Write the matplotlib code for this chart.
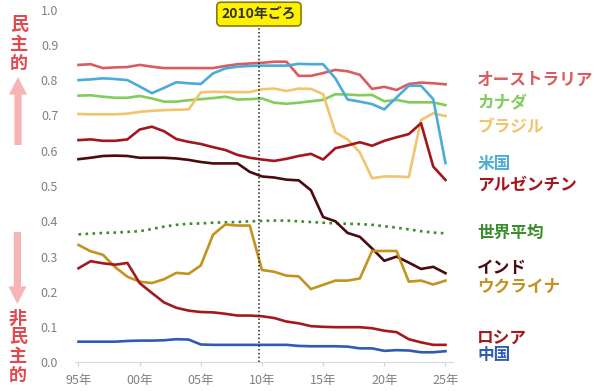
import matplotlib
matplotlib.use("Agg")
import matplotlib.pyplot as plt
from matplotlib.patches import FancyArrow

plt.rcParams['font.family'] = ['Noto Sans CJK JP', 'DejaVu Sans']

years = list(range(1995, 2026))

australia = [0.843, 0.845, 0.834, 0.836, 0.837, 0.843, 0.838, 0.834, 0.834, 0.834,
             0.834, 0.834, 0.840, 0.845, 0.847, 0.849, 0.852, 0.852, 0.812, 0.812,
             0.820, 0.829, 0.825, 0.815, 0.775, 0.781, 0.772, 0.789, 0.793, 0.791, 0.788]
usa = [0.800, 0.802, 0.805, 0.803, 0.800, 0.782, 0.763, 0.778, 0.794, 0.791,
       0.789, 0.819, 0.833, 0.838, 0.840, 0.841, 0.841, 0.841, 0.846, 0.845,
       0.845, 0.805, 0.745, 0.739, 0.732, 0.717, 0.751, 0.784, 0.784, 0.746, 0.565]
canada = [0.756, 0.757, 0.753, 0.750, 0.750, 0.755, 0.748, 0.739, 0.739, 0.743,
          0.746, 0.749, 0.753, 0.745, 0.746, 0.748, 0.736, 0.733, 0.736, 0.740,
          0.744, 0.760, 0.759, 0.757, 0.758, 0.740, 0.744, 0.737, 0.737, 0.737, 0.729]
brazil = [0.704, 0.703, 0.703, 0.703, 0.705, 0.710, 0.713, 0.715, 0.716, 0.717,
          0.765, 0.767, 0.766, 0.766, 0.766, 0.774, 0.776, 0.769, 0.776, 0.775,
          0.760, 0.652, 0.632, 0.595, 0.522, 0.527, 0.527, 0.525, 0.687, 0.706, 0.698]
argentina = [0.630, 0.632, 0.628, 0.628, 0.632, 0.660, 0.668, 0.655, 0.633, 0.625,
             0.619, 0.610, 0.602, 0.588, 0.580, 0.575, 0.571, 0.577, 0.585, 0.591,
             0.575, 0.607, 0.615, 0.624, 0.614, 0.628, 0.638, 0.647, 0.678, 0.555, 0.517]
india = [0.576, 0.580, 0.585, 0.586, 0.585, 0.580, 0.580, 0.580, 0.578, 0.574,
         0.568, 0.564, 0.564, 0.564, 0.540, 0.527, 0.524, 0.518, 0.516, 0.488,
         0.412, 0.400, 0.367, 0.356, 0.323, 0.288, 0.300, 0.283, 0.265, 0.271, 0.253]
world = [0.363, 0.365, 0.367, 0.368, 0.370, 0.372, 0.378, 0.385, 0.390, 0.393,
         0.394, 0.396, 0.397, 0.398, 0.400, 0.401, 0.402, 0.402, 0.400, 0.398,
         0.396, 0.394, 0.393, 0.392, 0.390, 0.386, 0.382, 0.377, 0.372, 0.368, 0.366]
ukraine = [0.333, 0.315, 0.305, 0.270, 0.243, 0.229, 0.225, 0.236, 0.254, 0.251,
           0.275, 0.362, 0.391, 0.388, 0.388, 0.262, 0.257, 0.246, 0.244, 0.208,
           0.220, 0.232, 0.232, 0.238, 0.316, 0.316, 0.316, 0.229, 0.232, 0.221, 0.232]
russia = [0.267, 0.287, 0.281, 0.277, 0.282, 0.225, 0.197, 0.170, 0.155, 0.147,
          0.143, 0.142, 0.138, 0.133, 0.133, 0.131, 0.126, 0.116, 0.111, 0.103,
          0.101, 0.100, 0.100, 0.100, 0.097, 0.090, 0.086, 0.066, 0.057, 0.050, 0.050]
china = [0.059, 0.059, 0.059, 0.059, 0.061, 0.062, 0.062, 0.063, 0.066, 0.065,
         0.051, 0.050, 0.050, 0.050, 0.050, 0.050, 0.050, 0.050, 0.047, 0.046,
         0.046, 0.046, 0.045, 0.040, 0.040, 0.033, 0.035, 0.034, 0.029, 0.029, 0.032]

names = ["オーストラリア", "カナダ", "ブラジル", "米国", "アルゼンチン",
         "世界平均", "インド", "ウクライナ", "ロシア", "中国"]
series = [australia, canada, brazil, usa, argentina, world, india, ukraine, russia, china]
colors = ["#d95c60", "#82cc5c", "#f2c46d", "#4bacd6", "#a3161d",
          "#3b8c2a", "#4a0a0e", "#c4921f", "#a31a1e", "#2f5bb5"]
label_y = [0.800, 0.738, 0.667, 0.562, 0.503, 0.367, 0.268, 0.214, 0.069, 0.021]

xticks = [1995, 2000, 2005, 2010, 2015, 2020, 2025]
xticklabels = ["95年", "00年", "05年", "10年", "15年", "20年", "25年"]

fig = plt.figure(figsize=(6, 3.91), dpi=100)
ax = fig.add_axes([0.1247, 0.0729, 0.630, 0.9028])

for name, vals, c in zip(names, series, colors):
    ls = ':' if name == "世界平均" else '-'
    ax.plot(years, vals, color=c, lw=1.9, ls=ls, solid_joinstyle='round')

for name, y, c in zip(names, label_y, colors):
    ax.text(2027.6, y, name, color=c, fontsize=12, fontweight='bold',
            va='center', ha='left', clip_on=False)

# 2010 marker
ax.axvline(2009.75, ymin=0, ymax=0.953, color='#222222', lw=1.1, ls=(0, (1, 1.5)))
ax.text(2009.75, 0.987, "2010年ごろ", ha='center', va='center', fontsize=10,
        fontweight='bold', color='#333333', clip_on=False,
        bbox=dict(boxstyle='round,pad=0.35,rounding_size=0.3', fc='#fff200',
                  ec='#8a7d00', lw=1.2))

ax.set_xlim(1994.7, 2025.6)
ax.set_ylim(0, 1.0)
ax.set_yticks([i / 10 for i in range(11)])
ax.set_yticklabels([f"{i / 10:.1f}" for i in range(11)])
ax.set_xticks(xticks)
ax.set_xticklabels(xticklabels)
ax.tick_params(axis='y', length=0, pad=12, labelsize=9, labelcolor='#808080')
ax.tick_params(axis='x', length=3, color='#d0d0d0', pad=5, labelsize=9,
               labelcolor='#808080')
for s in ['top', 'right', 'left']:
    ax.spines[s].set_visible(False)
ax.spines['bottom'].set_color('#d9d9d9')

# left side annotations
red = '#e04a50'
pink = '#f6b4b6'
for i, ch in enumerate("民主的"):
    fig.text(0.032, 1 - (25 + i * 19) / 391, ch, color=red, fontsize=13,
             fontweight='bold', ha='center', va='center')
for i, ch in enumerate("非民主的"):
    fig.text(0.030, 1 - (318 + i * 19) / 391, ch, color=red, fontsize=13,
             fontweight='bold', ha='center', va='center')

up = FancyArrow(0.030, 1 - 145 / 391, 0, 68 / 391, width=0.012,
                head_width=0.03, head_length=0.045, length_includes_head=True,
                transform=fig.transFigure, color=pink, lw=0)
down = FancyArrow(0.029, 1 - 232 / 391, 0, -72 / 391, width=0.012,
                  head_width=0.03, head_length=0.045, length_includes_head=True,
                  transform=fig.transFigure, color=pink, lw=0)
fig.patches.extend([up, down])

fig.savefig("out.png", dpi=100)
